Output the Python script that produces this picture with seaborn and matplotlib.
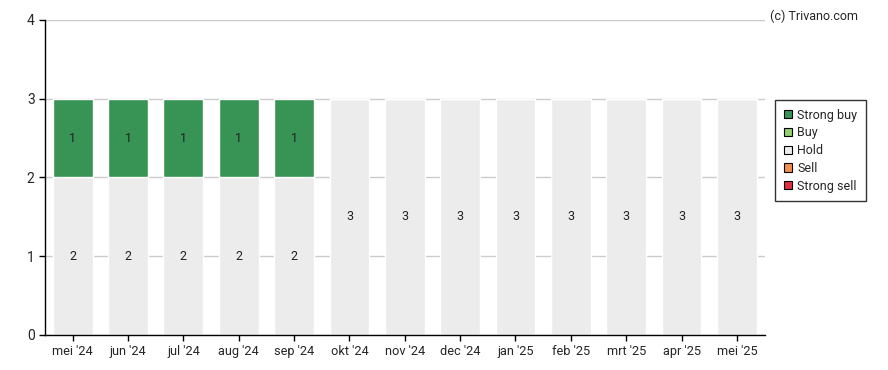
import numpy as np
import pandas as pd
import matplotlib
matplotlib.use("Agg")
import matplotlib.pyplot as plt
import seaborn as sns
from matplotlib.patches import Patch

months = ["mei '24", "jun '24", "jul '24", "aug '24", "sep '24", "okt '24", "nov '24",
          "dec '24", "jan '25", "feb '25", "mrt '25", "apr '25", "mei '25"]
strong_buy = [1, 1, 1, 1, 1, 0, 0, 0, 0, 0, 0, 0, 0]
buy = [0] * 13
hold = [2, 2, 2, 2, 2, 3, 3, 3, 3, 3, 3, 3, 3]
sell = [0] * 13
strong_sell = [0] * 13

colors = {
    "Strong buy": "#389454",
    "Buy": "#8fd16a",
    "Hold": "#ececec",
    "Sell": "#f58d4c",
    "Strong sell": "#e0303f",
}

sns.set_style("white")
plt.rcParams["font.family"] = ["Roboto", "DejaVu Sans"]

fig = plt.figure(figsize=(8.88, 3.70), dpi=100)
ax = fig.add_axes([0.0507, 0.0946, 0.8103, 0.8514])

df = pd.DataFrame({"month": months, "Strong buy": strong_buy, "Buy": buy,
                   "Hold": hold, "Sell": sell, "Strong sell": strong_sell})

# stack from bottom: strong sell, sell, hold, buy, strong buy
order = ["Strong sell", "Sell", "Hold", "Buy", "Strong buy"]
bottom = np.zeros(len(months))
for name in order:
    vals = df[name].to_numpy(dtype=float)
    if vals.sum() > 0:
        sns.barplot(x=df["month"], y=vals, bottom=bottom, color=colors[name],
                    width=0.72, ax=ax, saturation=1, zorder=2)
        for i, v in enumerate(vals):
            if v > 0:
                ax.text(i, bottom[i] + v / 2, f"{int(v)}", ha="center", va="center",
                        fontsize=9, color="#222222", zorder=3)
    bottom += vals

ax.set_ylim(0, 4)
ax.set_xlim(-0.5, len(months) - 0.5)
ax.set_yticks([0, 1, 2, 3, 4])
ax.set_xlabel("")
ax.set_ylabel("")
ax.grid(axis="y", color="#cccccc", linewidth=1, zorder=0)
ax.set_axisbelow(True)
for s in ["top", "right"]:
    ax.spines[s].set_visible(False)
for s in ["left", "bottom"]:
    ax.spines[s].set_color("black")
    ax.spines[s].set_linewidth(1)
ax.tick_params(axis="both", length=4, width=1, color="black", labelsize=9.2,
               direction="out", bottom=True, left=True)
ax.tick_params(axis="y", labelsize=10)

handles = [Patch(facecolor=colors[n], edgecolor="black", linewidth=0.8, label=n)
           for n in ["Strong buy", "Buy", "Hold", "Sell", "Strong sell"]]
leg = fig.legend(handles=handles, loc="upper left", bbox_to_anchor=(0.873, 0.73),
                 frameon=True, fancybox=False, fontsize=9, handlelength=0.62,
                 handleheight=0.62, handletextpad=0.45, labelspacing=0.38,
                 borderpad=0.7, borderaxespad=0)
leg.get_frame().set_edgecolor("black")
leg.get_frame().set_linewidth(1)

fig.text(0.966, 0.975, "(c) Trivano.com", ha="right", va="top", fontsize=9)

fig.savefig("out.png", dpi=100)
